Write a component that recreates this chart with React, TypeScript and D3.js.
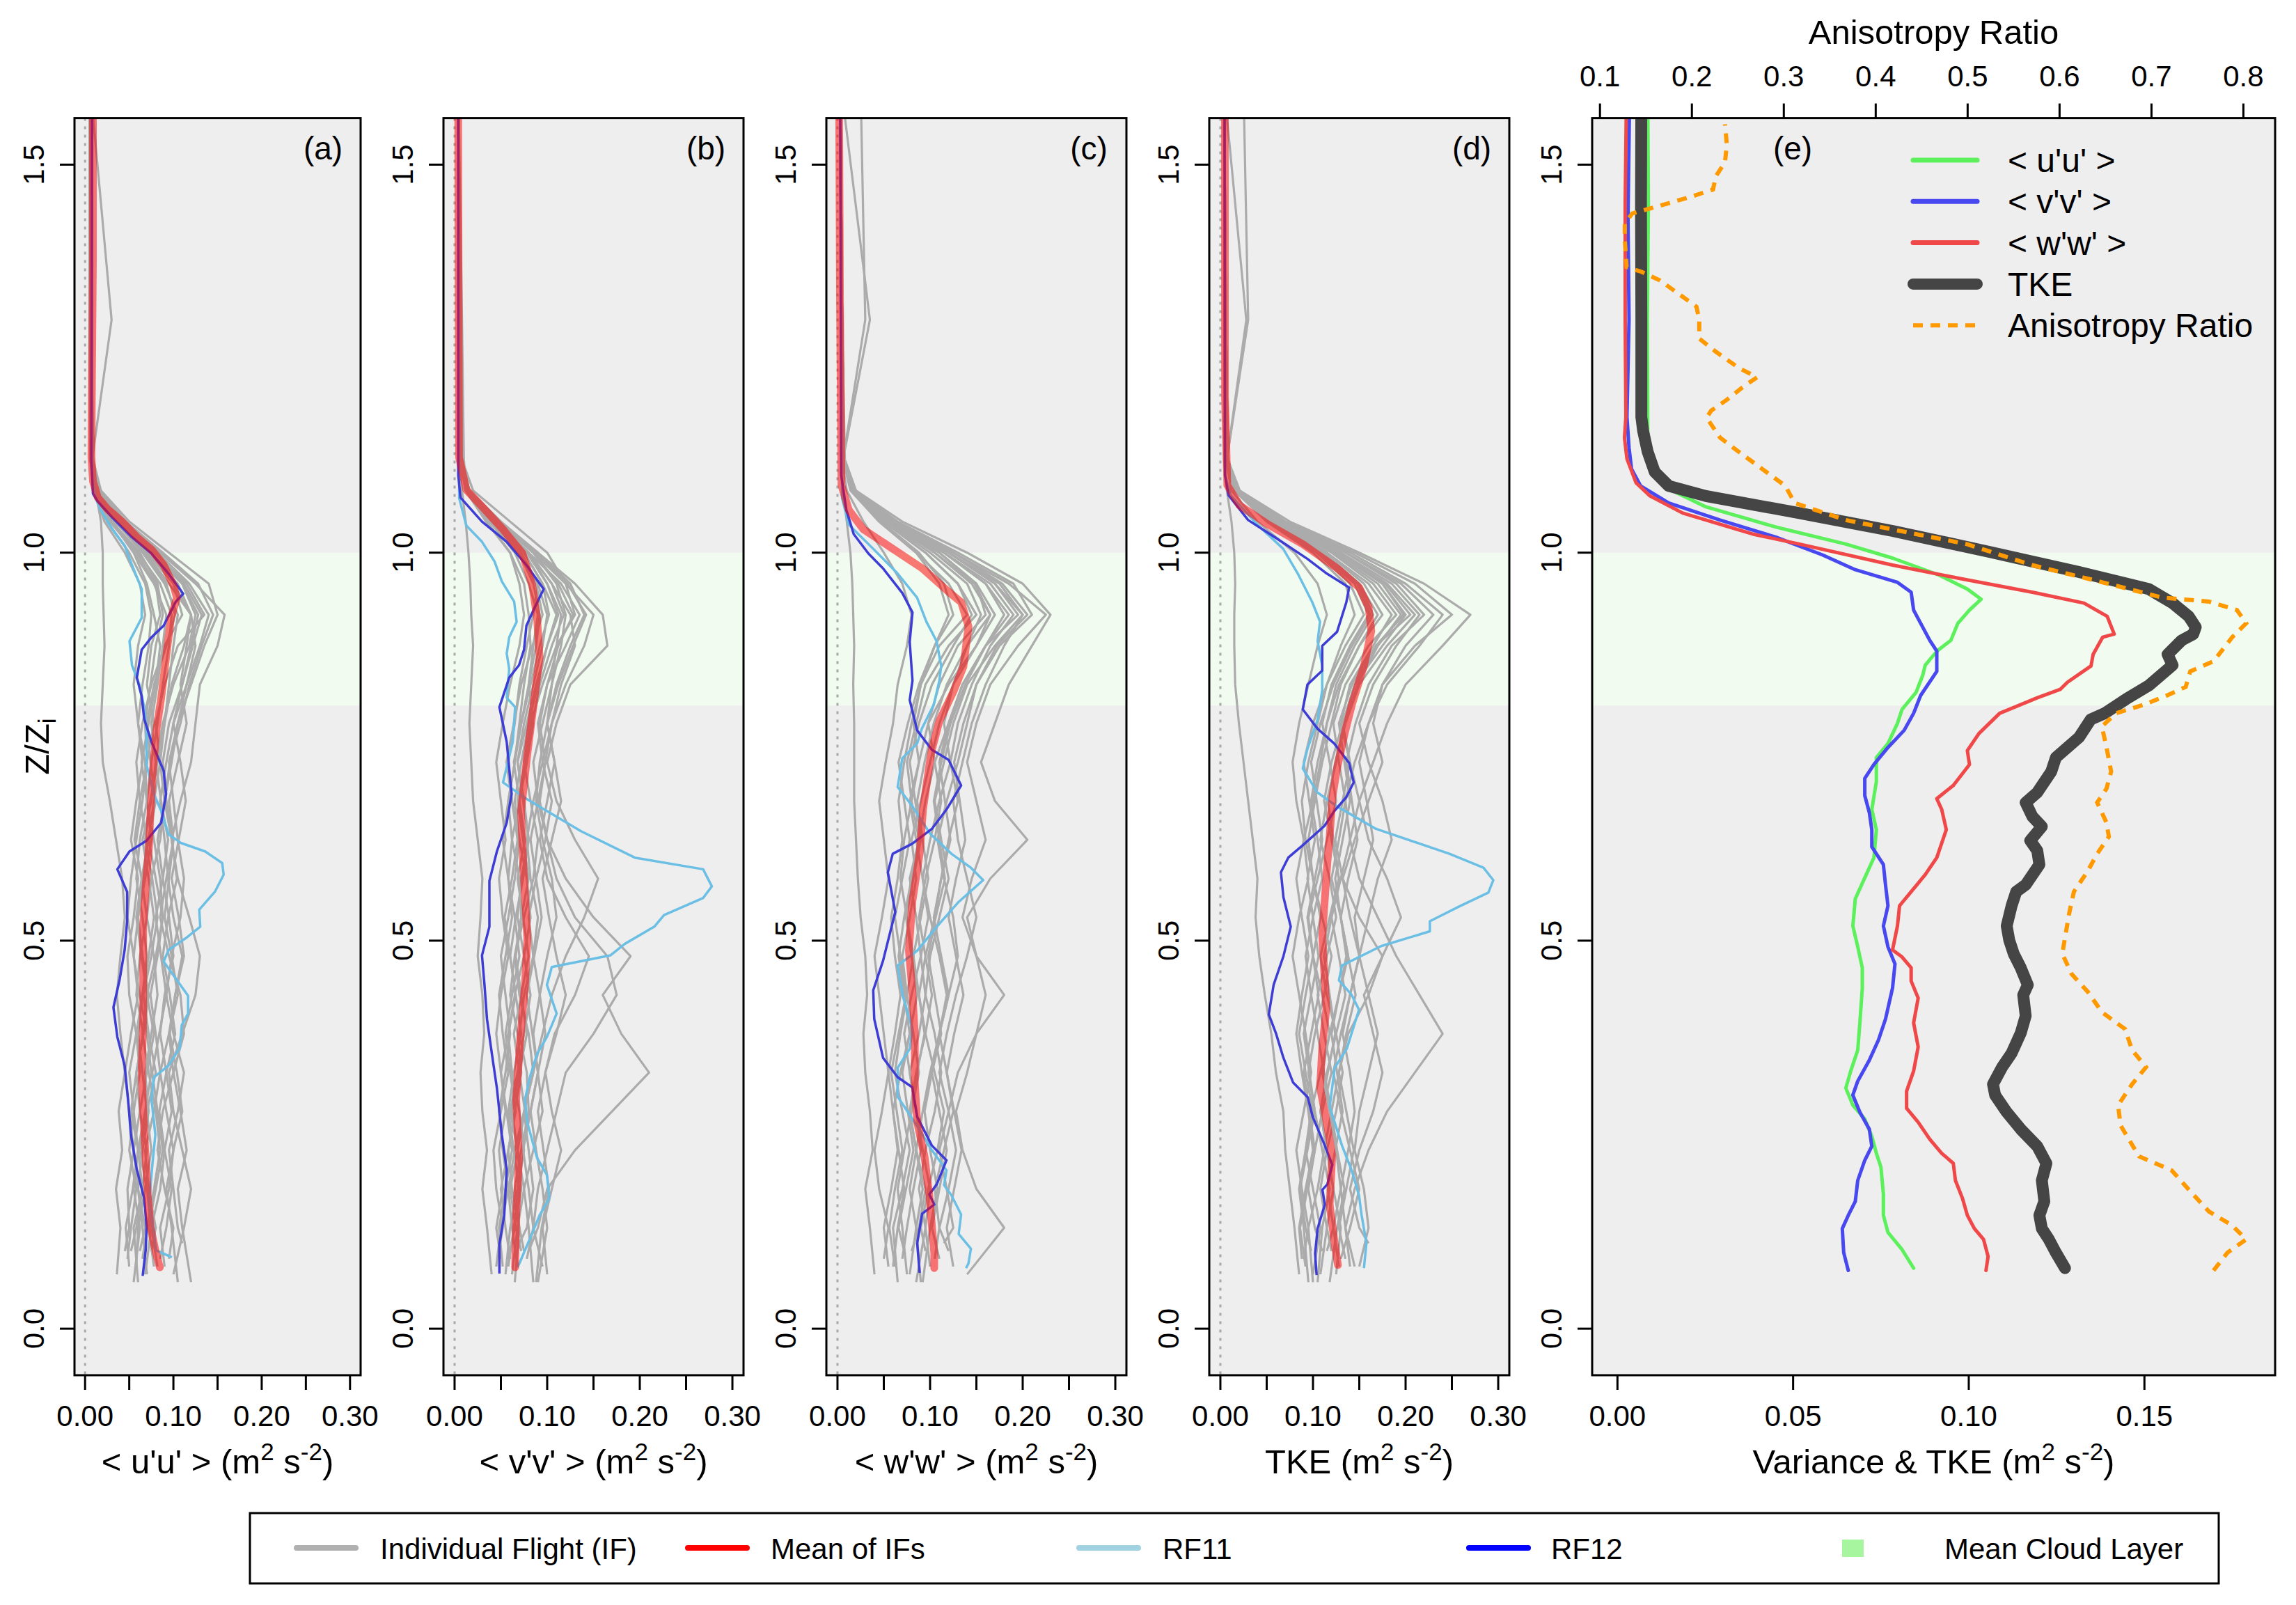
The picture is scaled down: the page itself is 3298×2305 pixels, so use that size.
import React, { useEffect, useRef } from 'react';
import * as d3 from 'd3';

type Pt = [number, number]; // [Z/Zi, value]

const W = 3298;
const H = 2305;
const FONT = '"Liberation Sans", Arial, Helvetica, sans-serif';

// ---- data -------------------------------------------------------------
// heights (Z/Zi) at which the individual flights are sampled
const zLevels = [0.08, 0.13, 0.18, 0.23, 0.28, 0.33, 0.38, 0.43, 0.48, 0.53, 0.58, 0.63, 0.68, 0.73, 0.78, 0.83, 0.88, 0.92, 0.96, 1.0, 1.04, 1.08, 1.12, 1.3, 1.6];
// lowest sampled height of each flight
const flightBase = [0.07, 0.09, 0.06, 0.10, 0.08, 0.11, 0.07, 0.09, 0.06, 0.08, 0.10, 0.07, 0.09, 0.08, 0.06, 0.10, 0.07, 0.09, 0.08, 0.06, 0.10, 0.08];
const cloudLayer = [0.803, 1.0];

const grayUU = [
  [0.036, 0.040, 0.035, 0.042, 0.038, 0.045, 0.040, 0.036, 0.040, 0.045, 0.042, 0.035, 0.028, 0.020, 0.018, 0.020, 0.022, 0.021, 0.020, 0.020, 0.018, 0.012, 0.006, 0.005, 0.005],
  [0.048, 0.052, 0.058, 0.050, 0.055, 0.062, 0.058, 0.050, 0.048, 0.055, 0.060, 0.052, 0.058, 0.065, 0.060, 0.055, 0.060, 0.068, 0.062, 0.045, 0.022, 0.010, 0.006, 0.006, 0.005],
  [0.060, 0.055, 0.065, 0.070, 0.062, 0.058, 0.066, 0.072, 0.065, 0.060, 0.068, 0.075, 0.070, 0.064, 0.072, 0.080, 0.085, 0.078, 0.070, 0.055, 0.030, 0.012, 0.007, 0.006, 0.006],
  [0.075, 0.080, 0.072, 0.068, 0.078, 0.085, 0.080, 0.074, 0.082, 0.088, 0.080, 0.072, 0.078, 0.085, 0.090, 0.095, 0.100, 0.105, 0.090, 0.065, 0.035, 0.014, 0.008, 0.007, 0.006],
  [0.090, 0.085, 0.095, 0.100, 0.092, 0.085, 0.095, 0.105, 0.098, 0.090, 0.095, 0.100, 0.092, 0.088, 0.095, 0.110, 0.120, 0.128, 0.110, 0.080, 0.045, 0.016, 0.008, 0.007, 0.006],
  [0.110, 0.105, 0.100, 0.095, 0.105, 0.112, 0.100, 0.092, 0.098, 0.108, 0.112, 0.105, 0.100, 0.095, 0.105, 0.120, 0.135, 0.150, 0.140, 0.095, 0.050, 0.018, 0.009, 0.007, 0.006],
  [0.100, 0.112, 0.120, 0.110, 0.100, 0.095, 0.110, 0.125, 0.130, 0.118, 0.105, 0.098, 0.108, 0.120, 0.125, 0.130, 0.150, 0.158, 0.125, 0.085, 0.040, 0.015, 0.008, 0.007, 0.006],
  [0.065, 0.070, 0.078, 0.085, 0.080, 0.072, 0.065, 0.070, 0.080, 0.088, 0.085, 0.078, 0.070, 0.075, 0.082, 0.088, 0.095, 0.098, 0.085, 0.060, 0.030, 0.012, 0.008, 0.030, 0.006],
  [0.055, 0.062, 0.055, 0.060, 0.068, 0.075, 0.070, 0.062, 0.055, 0.060, 0.066, 0.070, 0.062, 0.058, 0.065, 0.075, 0.090, 0.110, 0.100, 0.075, 0.040, 0.015, 0.007, 0.006, 0.005],
  [0.082, 0.075, 0.085, 0.090, 0.098, 0.092, 0.085, 0.090, 0.100, 0.095, 0.088, 0.082, 0.090, 0.098, 0.105, 0.115, 0.125, 0.120, 0.105, 0.070, 0.038, 0.014, 0.008, 0.006, 0.006],
  [0.045, 0.050, 0.048, 0.055, 0.050, 0.045, 0.052, 0.060, 0.055, 0.048, 0.052, 0.058, 0.065, 0.070, 0.078, 0.070, 0.075, 0.085, 0.080, 0.058, 0.028, 0.011, 0.007, 0.006, 0.005],
  [0.070, 0.065, 0.060, 0.065, 0.072, 0.068, 0.075, 0.082, 0.078, 0.070, 0.075, 0.085, 0.090, 0.085, 0.080, 0.090, 0.105, 0.135, 0.115, 0.078, 0.042, 0.015, 0.008, 0.007, 0.006],
  [0.095, 0.100, 0.090, 0.082, 0.088, 0.100, 0.112, 0.108, 0.095, 0.085, 0.092, 0.100, 0.095, 0.105, 0.115, 0.108, 0.115, 0.120, 0.095, 0.068, 0.035, 0.013, 0.008, 0.006, 0.006],
  [0.058, 0.060, 0.068, 0.075, 0.070, 0.065, 0.060, 0.065, 0.072, 0.078, 0.072, 0.065, 0.075, 0.080, 0.075, 0.082, 0.088, 0.092, 0.078, 0.055, 0.032, 0.013, 0.007, 0.006, 0.005],
  [0.120, 0.110, 0.105, 0.115, 0.108, 0.100, 0.095, 0.102, 0.110, 0.100, 0.094, 0.090, 0.085, 0.092, 0.100, 0.115, 0.130, 0.140, 0.118, 0.082, 0.045, 0.016, 0.009, 0.007, 0.006],
  [0.052, 0.058, 0.065, 0.060, 0.055, 0.050, 0.058, 0.065, 0.070, 0.065, 0.058, 0.062, 0.070, 0.068, 0.060, 0.065, 0.072, 0.075, 0.068, 0.050, 0.025, 0.010, 0.006, 0.005, 0.005],
  [0.068, 0.075, 0.070, 0.062, 0.070, 0.080, 0.072, 0.066, 0.075, 0.082, 0.076, 0.068, 0.074, 0.082, 0.090, 0.098, 0.112, 0.120, 0.100, 0.070, 0.036, 0.013, 0.008, 0.006, 0.006],
  [0.085, 0.092, 0.098, 0.090, 0.084, 0.092, 0.102, 0.096, 0.088, 0.094, 0.104, 0.098, 0.090, 0.096, 0.108, 0.118, 0.132, 0.145, 0.128, 0.088, 0.046, 0.016, 0.008, 0.007, 0.006],
  [0.050, 0.046, 0.054, 0.060, 0.052, 0.058, 0.066, 0.058, 0.062, 0.070, 0.064, 0.056, 0.062, 0.070, 0.068, 0.074, 0.080, 0.088, 0.082, 0.062, 0.030, 0.012, 0.007, 0.006, 0.005],
  [0.105, 0.098, 0.092, 0.100, 0.110, 0.104, 0.096, 0.102, 0.112, 0.106, 0.098, 0.106, 0.114, 0.108, 0.100, 0.110, 0.122, 0.132, 0.112, 0.078, 0.040, 0.015, 0.008, 0.007, 0.006],
  [0.062, 0.068, 0.060, 0.055, 0.062, 0.070, 0.078, 0.070, 0.064, 0.058, 0.064, 0.072, 0.080, 0.074, 0.070, 0.078, 0.092, 0.102, 0.092, 0.066, 0.034, 0.013, 0.007, 0.006, 0.005],
  [0.078, 0.072, 0.080, 0.088, 0.082, 0.076, 0.084, 0.092, 0.086, 0.080, 0.088, 0.094, 0.086, 0.080, 0.088, 0.100, 0.118, 0.125, 0.110, 0.074, 0.038, 0.014, 0.008, 0.007, 0.006],
];

const grayVV = [
  [0.040, 0.035, 0.030, 0.035, 0.030, 0.028, 0.032, 0.030, 0.025, 0.028, 0.030, 0.025, 0.020, 0.018, 0.016, 0.018, 0.020, 0.018, 0.017, 0.015, 0.012, 0.008, 0.005, 0.005, 0.004],
  [0.050, 0.045, 0.052, 0.048, 0.055, 0.050, 0.045, 0.050, 0.058, 0.052, 0.048, 0.055, 0.050, 0.045, 0.052, 0.060, 0.070, 0.075, 0.070, 0.060, 0.035, 0.012, 0.006, 0.005, 0.004],
  [0.065, 0.070, 0.062, 0.058, 0.065, 0.072, 0.068, 0.060, 0.065, 0.072, 0.070, 0.062, 0.058, 0.065, 0.072, 0.080, 0.088, 0.092, 0.085, 0.070, 0.040, 0.014, 0.006, 0.005, 0.004],
  [0.080, 0.090, 0.100, 0.130, 0.170, 0.210, 0.180, 0.160, 0.190, 0.150, 0.120, 0.100, 0.090, 0.085, 0.095, 0.105, 0.110, 0.115, 0.100, 0.080, 0.045, 0.015, 0.007, 0.005, 0.004],
  [0.095, 0.085, 0.090, 0.100, 0.110, 0.120, 0.150, 0.175, 0.165, 0.130, 0.110, 0.100, 0.092, 0.098, 0.105, 0.120, 0.140, 0.150, 0.120, 0.085, 0.050, 0.016, 0.007, 0.006, 0.004],
  [0.070, 0.078, 0.085, 0.080, 0.075, 0.085, 0.095, 0.105, 0.120, 0.140, 0.155, 0.130, 0.110, 0.100, 0.110, 0.125, 0.165, 0.160, 0.130, 0.090, 0.050, 0.016, 0.007, 0.006, 0.004],
  [0.055, 0.060, 0.068, 0.075, 0.070, 0.062, 0.058, 0.065, 0.075, 0.082, 0.078, 0.070, 0.065, 0.072, 0.080, 0.090, 0.100, 0.110, 0.095, 0.075, 0.040, 0.013, 0.006, 0.005, 0.004],
  [0.060, 0.055, 0.050, 0.058, 0.066, 0.060, 0.055, 0.062, 0.070, 0.065, 0.058, 0.062, 0.070, 0.078, 0.085, 0.080, 0.085, 0.090, 0.080, 0.065, 0.038, 0.013, 0.010, 0.008, 0.004],
  [0.085, 0.080, 0.075, 0.085, 0.095, 0.090, 0.085, 0.092, 0.100, 0.110, 0.105, 0.095, 0.088, 0.092, 0.100, 0.110, 0.125, 0.140, 0.125, 0.090, 0.048, 0.015, 0.007, 0.006, 0.004],
  [0.045, 0.050, 0.058, 0.052, 0.048, 0.055, 0.060, 0.055, 0.050, 0.058, 0.065, 0.070, 0.062, 0.058, 0.065, 0.070, 0.078, 0.085, 0.090, 0.070, 0.042, 0.014, 0.006, 0.005, 0.004],
  [0.075, 0.070, 0.065, 0.072, 0.080, 0.078, 0.070, 0.075, 0.085, 0.090, 0.082, 0.078, 0.085, 0.095, 0.105, 0.115, 0.130, 0.125, 0.105, 0.080, 0.045, 0.015, 0.007, 0.006, 0.004],
  [0.100, 0.095, 0.105, 0.115, 0.105, 0.098, 0.110, 0.120, 0.110, 0.102, 0.095, 0.105, 0.115, 0.108, 0.100, 0.105, 0.115, 0.120, 0.110, 0.085, 0.046, 0.015, 0.007, 0.006, 0.004],
  [0.058, 0.065, 0.072, 0.068, 0.060, 0.068, 0.075, 0.082, 0.075, 0.068, 0.072, 0.080, 0.075, 0.068, 0.075, 0.085, 0.095, 0.100, 0.090, 0.072, 0.040, 0.014, 0.006, 0.005, 0.004],
  [0.068, 0.062, 0.058, 0.065, 0.075, 0.085, 0.080, 0.070, 0.065, 0.075, 0.085, 0.090, 0.082, 0.075, 0.082, 0.095, 0.110, 0.130, 0.120, 0.100, 0.060, 0.020, 0.008, 0.006, 0.004],
  [0.090, 0.100, 0.095, 0.088, 0.082, 0.090, 0.098, 0.092, 0.085, 0.080, 0.088, 0.098, 0.105, 0.095, 0.090, 0.100, 0.120, 0.135, 0.115, 0.080, 0.044, 0.015, 0.007, 0.006, 0.004],
  [0.048, 0.052, 0.045, 0.042, 0.050, 0.058, 0.052, 0.048, 0.055, 0.062, 0.058, 0.052, 0.058, 0.065, 0.070, 0.075, 0.082, 0.080, 0.075, 0.060, 0.034, 0.012, 0.006, 0.005, 0.004],
  [0.062, 0.068, 0.075, 0.068, 0.062, 0.070, 0.078, 0.072, 0.066, 0.072, 0.080, 0.074, 0.068, 0.076, 0.084, 0.092, 0.105, 0.118, 0.105, 0.080, 0.044, 0.015, 0.006, 0.005, 0.004],
  [0.078, 0.085, 0.080, 0.074, 0.082, 0.090, 0.084, 0.078, 0.086, 0.094, 0.088, 0.082, 0.090, 0.098, 0.092, 0.100, 0.112, 0.128, 0.112, 0.085, 0.047, 0.016, 0.007, 0.005, 0.004],
  [0.052, 0.048, 0.055, 0.062, 0.056, 0.050, 0.058, 0.066, 0.060, 0.054, 0.062, 0.068, 0.062, 0.056, 0.064, 0.072, 0.084, 0.095, 0.088, 0.068, 0.038, 0.013, 0.006, 0.005, 0.004],
  [0.088, 0.094, 0.102, 0.096, 0.090, 0.098, 0.108, 0.130, 0.145, 0.120, 0.100, 0.092, 0.100, 0.108, 0.100, 0.112, 0.128, 0.142, 0.122, 0.088, 0.048, 0.016, 0.007, 0.006, 0.004],
  [0.072, 0.066, 0.060, 0.068, 0.076, 0.070, 0.064, 0.072, 0.080, 0.074, 0.068, 0.076, 0.070, 0.064, 0.072, 0.082, 0.092, 0.102, 0.095, 0.075, 0.042, 0.014, 0.006, 0.005, 0.004],
  [0.058, 0.064, 0.070, 0.064, 0.058, 0.064, 0.072, 0.066, 0.060, 0.066, 0.074, 0.080, 0.074, 0.068, 0.078, 0.088, 0.100, 0.112, 0.100, 0.078, 0.043, 0.014, 0.006, 0.005, 0.004],
];

const grayWW = [
  [0.040, 0.035, 0.030, 0.038, 0.035, 0.030, 0.028, 0.032, 0.030, 0.025, 0.022, 0.020, 0.018, 0.018, 0.018, 0.017, 0.018, 0.017, 0.016, 0.014, 0.010, 0.006, 0.004, 0.004, 0.003],
  [0.050, 0.055, 0.045, 0.040, 0.048, 0.055, 0.050, 0.045, 0.040, 0.048, 0.055, 0.050, 0.045, 0.052, 0.060, 0.065, 0.075, 0.080, 0.070, 0.050, 0.028, 0.010, 0.005, 0.004, 0.003],
  [0.065, 0.060, 0.070, 0.078, 0.070, 0.062, 0.068, 0.075, 0.082, 0.075, 0.068, 0.072, 0.080, 0.088, 0.082, 0.090, 0.110, 0.140, 0.120, 0.085, 0.045, 0.015, 0.006, 0.004, 0.003],
  [0.080, 0.088, 0.095, 0.085, 0.078, 0.085, 0.095, 0.102, 0.095, 0.088, 0.095, 0.105, 0.112, 0.105, 0.098, 0.110, 0.130, 0.160, 0.150, 0.110, 0.055, 0.016, 0.006, 0.004, 0.003],
  [0.100, 0.095, 0.088, 0.095, 0.105, 0.112, 0.105, 0.095, 0.100, 0.110, 0.120, 0.112, 0.105, 0.115, 0.125, 0.140, 0.170, 0.200, 0.175, 0.120, 0.060, 0.018, 0.007, 0.005, 0.003],
  [0.115, 0.125, 0.118, 0.110, 0.120, 0.130, 0.150, 0.180, 0.150, 0.135, 0.145, 0.160, 0.150, 0.140, 0.150, 0.165, 0.195, 0.225, 0.185, 0.125, 0.062, 0.018, 0.007, 0.005, 0.003],
  [0.140, 0.180, 0.150, 0.135, 0.128, 0.140, 0.150, 0.160, 0.150, 0.140, 0.165, 0.205, 0.170, 0.155, 0.170, 0.185, 0.210, 0.230, 0.200, 0.140, 0.070, 0.020, 0.008, 0.005, 0.003],
  [0.070, 0.075, 0.082, 0.090, 0.085, 0.078, 0.072, 0.080, 0.090, 0.098, 0.092, 0.085, 0.078, 0.088, 0.098, 0.120, 0.150, 0.170, 0.150, 0.110, 0.055, 0.016, 0.006, 0.030, 0.025],
  [0.090, 0.085, 0.078, 0.085, 0.092, 0.100, 0.110, 0.118, 0.110, 0.100, 0.092, 0.100, 0.110, 0.122, 0.130, 0.145, 0.165, 0.190, 0.165, 0.115, 0.058, 0.017, 0.007, 0.005, 0.003],
  [0.060, 0.065, 0.072, 0.066, 0.060, 0.068, 0.078, 0.072, 0.066, 0.072, 0.080, 0.088, 0.080, 0.075, 0.085, 0.095, 0.120, 0.150, 0.130, 0.095, 0.050, 0.015, 0.006, 0.035, 0.004],
  [0.120, 0.110, 0.105, 0.115, 0.125, 0.118, 0.110, 0.120, 0.130, 0.125, 0.115, 0.108, 0.118, 0.130, 0.140, 0.150, 0.175, 0.210, 0.190, 0.130, 0.065, 0.019, 0.007, 0.005, 0.003],
  [0.075, 0.070, 0.065, 0.072, 0.080, 0.088, 0.082, 0.075, 0.070, 0.078, 0.085, 0.080, 0.090, 0.100, 0.110, 0.125, 0.140, 0.155, 0.140, 0.100, 0.052, 0.016, 0.006, 0.004, 0.003],
  [0.105, 0.110, 0.120, 0.128, 0.120, 0.110, 0.118, 0.128, 0.140, 0.150, 0.140, 0.130, 0.125, 0.135, 0.145, 0.160, 0.180, 0.200, 0.170, 0.120, 0.060, 0.018, 0.007, 0.005, 0.003],
  [0.055, 0.050, 0.058, 0.065, 0.060, 0.055, 0.062, 0.068, 0.062, 0.058, 0.065, 0.070, 0.066, 0.072, 0.080, 0.090, 0.105, 0.120, 0.110, 0.085, 0.045, 0.014, 0.006, 0.004, 0.003],
  [0.085, 0.095, 0.100, 0.092, 0.085, 0.078, 0.088, 0.095, 0.090, 0.085, 0.078, 0.088, 0.095, 0.105, 0.120, 0.135, 0.160, 0.180, 0.160, 0.115, 0.058, 0.017, 0.007, 0.005, 0.003],
  [0.095, 0.090, 0.098, 0.108, 0.115, 0.105, 0.095, 0.088, 0.095, 0.105, 0.112, 0.120, 0.130, 0.122, 0.115, 0.125, 0.150, 0.165, 0.145, 0.105, 0.055, 0.016, 0.007, 0.005, 0.003],
  [0.078, 0.085, 0.092, 0.085, 0.078, 0.086, 0.094, 0.088, 0.082, 0.090, 0.098, 0.092, 0.086, 0.094, 0.104, 0.118, 0.140, 0.165, 0.148, 0.105, 0.054, 0.016, 0.006, 0.004, 0.003],
  [0.110, 0.102, 0.110, 0.118, 0.110, 0.102, 0.110, 0.120, 0.112, 0.104, 0.112, 0.122, 0.116, 0.110, 0.120, 0.135, 0.160, 0.185, 0.160, 0.115, 0.058, 0.017, 0.007, 0.005, 0.003],
  [0.062, 0.056, 0.062, 0.070, 0.064, 0.058, 0.066, 0.074, 0.068, 0.062, 0.070, 0.078, 0.072, 0.066, 0.076, 0.088, 0.105, 0.125, 0.115, 0.088, 0.047, 0.015, 0.006, 0.004, 0.003],
  [0.092, 0.100, 0.108, 0.100, 0.094, 0.102, 0.112, 0.105, 0.098, 0.106, 0.116, 0.110, 0.104, 0.112, 0.122, 0.138, 0.160, 0.195, 0.170, 0.120, 0.060, 0.018, 0.007, 0.005, 0.003],
  [0.072, 0.066, 0.074, 0.082, 0.076, 0.070, 0.078, 0.086, 0.080, 0.074, 0.082, 0.090, 0.084, 0.078, 0.088, 0.102, 0.125, 0.145, 0.130, 0.095, 0.050, 0.015, 0.006, 0.004, 0.003],
  [0.125, 0.118, 0.126, 0.134, 0.126, 0.118, 0.126, 0.136, 0.128, 0.120, 0.128, 0.138, 0.132, 0.126, 0.136, 0.150, 0.172, 0.205, 0.178, 0.125, 0.062, 0.018, 0.007, 0.005, 0.003],
];

const grayTKE = [
  [0.085, 0.080, 0.075, 0.070, 0.068, 0.060, 0.055, 0.048, 0.042, 0.038, 0.040, 0.035, 0.030, 0.025, 0.020, 0.016, 0.015, 0.015, 0.016, 0.015, 0.012, 0.007, 0.004, 0.004, 0.004],
  [0.090, 0.095, 0.088, 0.082, 0.090, 0.098, 0.092, 0.085, 0.078, 0.085, 0.095, 0.090, 0.082, 0.078, 0.085, 0.095, 0.105, 0.115, 0.105, 0.080, 0.040, 0.012, 0.006, 0.005, 0.004],
  [0.105, 0.110, 0.118, 0.110, 0.102, 0.095, 0.102, 0.112, 0.120, 0.110, 0.100, 0.095, 0.102, 0.110, 0.120, 0.130, 0.150, 0.170, 0.150, 0.110, 0.055, 0.016, 0.007, 0.005, 0.004],
  [0.120, 0.115, 0.108, 0.115, 0.125, 0.132, 0.125, 0.115, 0.108, 0.118, 0.128, 0.120, 0.112, 0.120, 0.132, 0.145, 0.175, 0.200, 0.175, 0.125, 0.062, 0.018, 0.007, 0.005, 0.004],
  [0.140, 0.135, 0.145, 0.160, 0.180, 0.210, 0.240, 0.215, 0.190, 0.170, 0.150, 0.140, 0.135, 0.145, 0.160, 0.180, 0.215, 0.240, 0.200, 0.140, 0.070, 0.020, 0.008, 0.006, 0.004],
  [0.160, 0.150, 0.140, 0.150, 0.165, 0.175, 0.165, 0.155, 0.175, 0.195, 0.180, 0.160, 0.150, 0.165, 0.180, 0.200, 0.240, 0.270, 0.220, 0.150, 0.075, 0.021, 0.008, 0.006, 0.004],
  [0.100, 0.108, 0.100, 0.092, 0.098, 0.108, 0.118, 0.110, 0.100, 0.095, 0.105, 0.115, 0.125, 0.118, 0.110, 0.120, 0.140, 0.160, 0.145, 0.105, 0.052, 0.015, 0.007, 0.005, 0.004],
  [0.130, 0.140, 0.150, 0.140, 0.130, 0.122, 0.130, 0.140, 0.150, 0.160, 0.170, 0.185, 0.175, 0.160, 0.150, 0.165, 0.190, 0.215, 0.185, 0.130, 0.065, 0.019, 0.008, 0.006, 0.004],
  [0.095, 0.090, 0.085, 0.092, 0.100, 0.092, 0.085, 0.092, 0.100, 0.108, 0.100, 0.092, 0.088, 0.095, 0.105, 0.115, 0.130, 0.145, 0.135, 0.100, 0.050, 0.015, 0.007, 0.028, 0.004],
  [0.150, 0.160, 0.155, 0.145, 0.150, 0.160, 0.170, 0.160, 0.150, 0.145, 0.155, 0.165, 0.158, 0.150, 0.160, 0.175, 0.210, 0.250, 0.210, 0.145, 0.070, 0.020, 0.008, 0.006, 0.004],
  [0.110, 0.102, 0.095, 0.102, 0.110, 0.120, 0.112, 0.105, 0.115, 0.125, 0.118, 0.108, 0.115, 0.125, 0.135, 0.150, 0.180, 0.210, 0.180, 0.128, 0.063, 0.018, 0.007, 0.005, 0.004],
  [0.125, 0.130, 0.122, 0.115, 0.108, 0.115, 0.125, 0.135, 0.128, 0.120, 0.130, 0.140, 0.150, 0.140, 0.130, 0.140, 0.165, 0.185, 0.160, 0.115, 0.058, 0.017, 0.007, 0.005, 0.004],
  [0.088, 0.085, 0.092, 0.100, 0.095, 0.088, 0.082, 0.088, 0.095, 0.088, 0.082, 0.090, 0.100, 0.108, 0.115, 0.125, 0.145, 0.165, 0.150, 0.112, 0.056, 0.016, 0.007, 0.030, 0.025],
  [0.145, 0.135, 0.130, 0.138, 0.145, 0.140, 0.132, 0.140, 0.150, 0.140, 0.132, 0.145, 0.160, 0.175, 0.165, 0.175, 0.200, 0.230, 0.195, 0.135, 0.068, 0.020, 0.008, 0.006, 0.004],
  [0.100, 0.095, 0.105, 0.112, 0.120, 0.112, 0.105, 0.098, 0.092, 0.100, 0.110, 0.105, 0.098, 0.105, 0.115, 0.128, 0.150, 0.175, 0.155, 0.115, 0.057, 0.017, 0.007, 0.005, 0.004],
  [0.115, 0.122, 0.130, 0.125, 0.118, 0.110, 0.118, 0.128, 0.138, 0.130, 0.120, 0.128, 0.135, 0.128, 0.122, 0.135, 0.160, 0.190, 0.165, 0.120, 0.060, 0.018, 0.007, 0.005, 0.004],
  [0.108, 0.115, 0.122, 0.115, 0.108, 0.116, 0.124, 0.118, 0.112, 0.120, 0.128, 0.122, 0.116, 0.124, 0.134, 0.148, 0.170, 0.195, 0.170, 0.122, 0.061, 0.018, 0.007, 0.005, 0.004],
  [0.135, 0.128, 0.136, 0.144, 0.136, 0.128, 0.136, 0.146, 0.138, 0.130, 0.138, 0.148, 0.142, 0.136, 0.146, 0.160, 0.185, 0.220, 0.190, 0.135, 0.067, 0.020, 0.008, 0.006, 0.004],
  [0.092, 0.086, 0.094, 0.102, 0.096, 0.090, 0.098, 0.106, 0.100, 0.094, 0.102, 0.110, 0.104, 0.098, 0.108, 0.122, 0.142, 0.162, 0.148, 0.108, 0.054, 0.016, 0.007, 0.005, 0.004],
  [0.118, 0.126, 0.134, 0.126, 0.120, 0.128, 0.138, 0.160, 0.175, 0.150, 0.132, 0.124, 0.132, 0.140, 0.132, 0.145, 0.168, 0.198, 0.175, 0.125, 0.062, 0.018, 0.007, 0.005, 0.004],
  [0.098, 0.092, 0.086, 0.094, 0.102, 0.096, 0.090, 0.098, 0.106, 0.100, 0.094, 0.102, 0.096, 0.090, 0.100, 0.115, 0.135, 0.155, 0.140, 0.104, 0.052, 0.015, 0.007, 0.005, 0.004],
  [0.128, 0.122, 0.116, 0.124, 0.132, 0.126, 0.120, 0.128, 0.136, 0.130, 0.124, 0.132, 0.140, 0.134, 0.128, 0.142, 0.168, 0.205, 0.178, 0.128, 0.064, 0.019, 0.007, 0.005, 0.004],
];

// mean of individual flights, [Z/Zi, value]
const meanUU: Pt[] = [[0.079, 0.0846], [0.101, 0.0796], [0.131, 0.0741], [0.168, 0.0713], [0.220, 0.0686], [0.280, 0.0658], [0.332, 0.0641], [0.399, 0.0658], [0.458, 0.0658], [0.518, 0.0658], [0.570, 0.0686], [0.622, 0.0724], [0.667, 0.0741], [0.719, 0.0768], [0.771, 0.0807], [0.813, 0.0862], [0.865, 0.0917], [0.916, 0.0973], [0.942, 0.1039], [0.958, 0.1000], [0.984, 0.0890], [1.004, 0.0752], [1.020, 0.0586], [1.040, 0.0420], [1.056, 0.0255], [1.071, 0.0144], [1.092, 0.0089], [1.123, 0.0072], [1.226, 0.0078], [1.380, 0.0089], [1.6, 0.0089]];
const meanVV: Pt[] = [[0.079, 0.0654], [0.146, 0.0665], [0.220, 0.0696], [0.295, 0.0665], [0.369, 0.0707], [0.443, 0.0760], [0.503, 0.0786], [0.592, 0.0744], [0.667, 0.0718], [0.741, 0.0786], [0.815, 0.0865], [0.865, 0.0918], [0.916, 0.0891], [0.958, 0.0839], [0.999, 0.0733], [1.030, 0.0523], [1.061, 0.0285], [1.081, 0.0127], [1.123, 0.0048], [1.6, 0.0038]];
const meanWW: Pt[] = [[0.078, 0.1045], [0.097, 0.1045], [0.172, 0.0992], [0.222, 0.0940], [0.266, 0.0861], [0.317, 0.0835], [0.380, 0.0835], [0.436, 0.0808], [0.487, 0.0771], [0.550, 0.0808], [0.612, 0.0887], [0.669, 0.0924], [0.726, 0.0992], [0.746, 0.1019], [0.783, 0.1100], [0.822, 0.1256], [0.853, 0.1360], [0.905, 0.1415], [0.936, 0.1336], [0.952, 0.1177], [0.980, 0.0913], [1.005, 0.0597], [1.030, 0.0280], [1.055, 0.0122], [1.087, 0.0043], [1.33, 0.0027], [1.6, 0.0017]];
const meanTKE: Pt[] = [[0.082, 0.127], [0.110, 0.1234], [0.160, 0.118], [0.223, 0.1208], [0.261, 0.1155], [0.311, 0.1076], [0.362, 0.110], [0.412, 0.1144], [0.506, 0.110], [0.600, 0.1155], [0.634, 0.118], [0.685, 0.121], [0.722, 0.126], [0.766, 0.134], [0.804, 0.142], [0.854, 0.155], [0.899, 0.163], [0.930, 0.160], [0.955, 0.150], [0.980, 0.126], [1.011, 0.089], [1.036, 0.052], [1.061, 0.0207], [1.087, 0.0075], [1.2, 0.005], [1.6, 0.0048]];

// research flight RF11
const rf11UU: Pt[] = [[0.092, 0.0983], [0.101, 0.0803], [0.124, 0.0779], [0.161, 0.0724], [0.213, 0.0763], [0.250, 0.0796], [0.295, 0.0752], [0.324, 0.0779], [0.339, 0.0945], [0.362, 0.1072], [0.391, 0.1094], [0.406, 0.1166], [0.429, 0.1166], [0.451, 0.1028], [0.473, 0.0890], [0.488, 0.0945], [0.503, 0.1138], [0.518, 0.1304], [0.540, 0.1293], [0.563, 0.1470], [0.585, 0.1569], [0.600, 0.1553], [0.615, 0.1359], [0.626, 0.1083], [0.637, 0.0945], [0.667, 0.0862], [0.689, 0.0779], [0.726, 0.0697], [0.771, 0.0697], [0.801, 0.0669], [0.830, 0.0614], [0.855, 0.0531], [0.886, 0.0503], [0.916, 0.0641], [0.953, 0.0641], [0.984, 0.0531], [1.009, 0.0448], [1.030, 0.0310], [1.056, 0.0172], [1.071, 0.0117], [1.1, 0.008], [1.6, 0.008]];
const rf11VV: Pt[] = [[0.079, 0.0680], [0.086, 0.0707], [0.116, 0.0813], [0.146, 0.0918], [0.168, 0.1023], [0.198, 0.0997], [0.220, 0.0891], [0.265, 0.0786], [0.295, 0.0760], [0.324, 0.0813], [0.354, 0.0891], [0.376, 0.0997], [0.406, 0.1102], [0.443, 0.0997], [0.466, 0.1050], [0.481, 0.1682], [0.496, 0.1840], [0.518, 0.2157], [0.533, 0.2262], [0.555, 0.2684], [0.570, 0.2778], [0.592, 0.2684], [0.607, 0.1946], [0.641, 0.1366], [0.682, 0.0786], [0.704, 0.0523], [0.756, 0.0628], [0.801, 0.0654], [0.813, 0.0563], [0.850, 0.0590], [0.870, 0.0563], [0.891, 0.0590], [0.911, 0.0670], [0.937, 0.0643], [0.963, 0.0510], [0.989, 0.0430], [1.014, 0.0296], [1.035, 0.0127], [1.07, 0.005], [1.6, 0.004]];
const rf11WW: Pt[] = [[0.078, 0.1388], [0.084, 0.1414], [0.103, 0.1441], [0.122, 0.1309], [0.147, 0.1335], [0.172, 0.1230], [0.185, 0.1151], [0.204, 0.1177], [0.230, 0.1019], [0.261, 0.0861], [0.299, 0.065], [0.336, 0.065], [0.361, 0.0782], [0.386, 0.0808], [0.430, 0.0703], [0.468, 0.065], [0.487, 0.0861], [0.518, 0.1072], [0.550, 0.1309], [0.578, 0.1573], [0.594, 0.1441], [0.612, 0.123], [0.638, 0.100], [0.673, 0.081], [0.698, 0.065], [0.735, 0.070], [0.754, 0.086], [0.773, 0.091], [0.804, 0.104], [0.835, 0.110], [0.854, 0.112], [0.886, 0.107], [0.911, 0.096], [0.942, 0.086], [0.973, 0.065], [1.005, 0.0386], [1.036, 0.0122], [1.07, 0.005], [1.6, 0.003]];
const rf11TKE: Pt[] = [[0.078, 0.155], [0.110, 0.1577], [0.147, 0.1524], [0.172, 0.1497], [0.204, 0.1418], [0.236, 0.1313], [0.286, 0.1181], [0.336, 0.1234], [0.361, 0.1366], [0.411, 0.1497], [0.430, 0.1418], [0.449, 0.128], [0.468, 0.1313], [0.493, 0.1735], [0.512, 0.2262], [0.525, 0.2262], [0.544, 0.2578], [0.562, 0.2894], [0.578, 0.2947], [0.594, 0.2841], [0.612, 0.2473], [0.644, 0.1682], [0.673, 0.126], [0.691, 0.1047], [0.722, 0.089], [0.747, 0.094], [0.785, 0.105], [0.823, 0.110], [0.854, 0.110], [0.886, 0.105], [0.911, 0.1076], [0.936, 0.0993], [0.973, 0.0836], [1.005, 0.0678], [1.036, 0.040], [1.074, 0.011], [1.1, 0.005], [1.6, 0.0045]];

// research flight RF12
const rf12UU: Pt[] = [[0.068, 0.0652], [0.101, 0.0686], [0.131, 0.0697], [0.168, 0.0669], [0.205, 0.0586], [0.250, 0.0519], [0.295, 0.0487], [0.339, 0.0448], [0.376, 0.0365], [0.414, 0.0321], [0.451, 0.0393], [0.488, 0.0448], [0.525, 0.0476], [0.563, 0.0476], [0.592, 0.0365], [0.615, 0.0503], [0.629, 0.0697], [0.652, 0.0862], [0.689, 0.0917], [0.719, 0.0890], [0.756, 0.0752], [0.786, 0.0669], [0.815, 0.0641], [0.839, 0.0586], [0.875, 0.0641], [0.891, 0.0752], [0.906, 0.0890], [0.937, 0.1028], [0.947, 0.1111], [0.973, 0.0945], [0.999, 0.0752], [1.020, 0.0531], [1.045, 0.0310], [1.066, 0.0144], [1.076, 0.0089], [1.12, 0.007], [1.6, 0.008]];
const rf12VV: Pt[] = [[0.071, 0.0484], [0.109, 0.0484], [0.146, 0.0536], [0.205, 0.0563], [0.250, 0.0510], [0.310, 0.0457], [0.354, 0.0403], [0.399, 0.0350], [0.443, 0.0323], [0.481, 0.0296], [0.518, 0.0376], [0.577, 0.0376], [0.615, 0.0457], [0.652, 0.0563], [0.689, 0.0616], [0.756, 0.0563], [0.801, 0.0484], [0.839, 0.0590], [0.855, 0.0696], [0.875, 0.0750], [0.906, 0.0776], [0.927, 0.0856], [0.953, 0.0962], [0.984, 0.0776], [1.014, 0.0563], [1.040, 0.0296], [1.071, 0.0064], [1.1, 0.004], [1.6, 0.004]];
const rf12WW: Pt[] = [[0.072, 0.0887], [0.110, 0.0861], [0.148, 0.0914], [0.160, 0.1045], [0.173, 0.0992], [0.186, 0.1072], [0.217, 0.1177], [0.236, 0.1019], [0.273, 0.0861], [0.311, 0.0808], [0.324, 0.0650], [0.349, 0.0492], [0.399, 0.0397], [0.436, 0.0386], [0.474, 0.0492], [0.537, 0.0624], [0.588, 0.0544], [0.612, 0.0597], [0.625, 0.0808], [0.644, 0.1019], [0.669, 0.1177], [0.700, 0.1335], [0.733, 0.120], [0.746, 0.1019], [0.771, 0.086], [0.810, 0.078], [0.835, 0.081], [0.885, 0.078], [0.923, 0.081], [0.948, 0.070], [0.980, 0.049], [0.999, 0.0333], [1.024, 0.0175], [1.055, 0.0096], [1.1, 0.004], [1.6, 0.003]];
const rf12TKE: Pt[] = [[0.069, 0.1039], [0.097, 0.1023], [0.129, 0.105], [0.160, 0.1128], [0.179, 0.1102], [0.186, 0.1155], [0.211, 0.1208], [0.236, 0.1128], [0.273, 0.0997], [0.298, 0.0944], [0.317, 0.0786], [0.349, 0.0681], [0.380, 0.0602], [0.405, 0.0523], [0.443, 0.0575], [0.480, 0.0681], [0.518, 0.076], [0.556, 0.0681], [0.588, 0.0654], [0.607, 0.0733], [0.623, 0.089], [0.648, 0.1125], [0.667, 0.123], [0.685, 0.136], [0.704, 0.144], [0.729, 0.139], [0.754, 0.123], [0.773, 0.105], [0.798, 0.089], [0.830, 0.094], [0.848, 0.110], [0.880, 0.110], [0.898, 0.126], [0.936, 0.136], [0.955, 0.139], [0.973, 0.115], [0.992, 0.094], [1.017, 0.0625], [1.042, 0.030], [1.074, 0.0088], [1.1, 0.005], [1.6, 0.0045]];

// panel (e): mean profiles and anisotropy ratio
const eUU: Pt[] = [[0.078, 0.0843], [0.102, 0.0810], [0.124, 0.0770], [0.146, 0.0757], [0.173, 0.0757], [0.208, 0.0750], [0.226, 0.0737], [0.248, 0.0724], [0.270, 0.0704], [0.288, 0.0670], [0.310, 0.0650], [0.332, 0.0664], [0.359, 0.0684], [0.394, 0.0690], [0.439, 0.0697], [0.465, 0.0697], [0.492, 0.0684], [0.519, 0.0670], [0.554, 0.0677], [0.581, 0.0704], [0.607, 0.0730], [0.643, 0.0737], [0.669, 0.0724], [0.705, 0.0737], [0.736, 0.0737], [0.754, 0.0770], [0.780, 0.0797], [0.798, 0.0810], [0.820, 0.0850], [0.842, 0.0869], [0.855, 0.0876], [0.873, 0.0909], [0.887, 0.0949], [0.909, 0.0969], [0.926, 0.1002], [0.940, 0.1035], [0.953, 0.0996], [0.971, 0.0916], [0.993, 0.0783], [1.011, 0.0650], [1.033, 0.0451], [1.059, 0.0252], [1.082, 0.0146], [1.099, 0.0113], [1.121, 0.0093], [1.148, 0.0086], [1.175, 0.0086], [1.3, 0.0085], [1.45, 0.0088], [1.6, 0.0086]];
const eVV: Pt[] = [[0.075, 0.0657], [0.098, 0.0644], [0.129, 0.0640], [0.146, 0.0657], [0.164, 0.0677], [0.191, 0.0684], [0.217, 0.0704], [0.235, 0.0724], [0.257, 0.0717], [0.279, 0.0690], [0.301, 0.0670], [0.319, 0.0684], [0.346, 0.0717], [0.372, 0.0743], [0.399, 0.0763], [0.439, 0.0783], [0.470, 0.0790], [0.492, 0.0770], [0.519, 0.0757], [0.545, 0.0770], [0.572, 0.0763], [0.598, 0.0757], [0.621, 0.0724], [0.643, 0.0724], [0.665, 0.0717], [0.687, 0.0704], [0.709, 0.0704], [0.727, 0.0730], [0.749, 0.0770], [0.771, 0.0816], [0.793, 0.0843], [0.816, 0.0863], [0.847, 0.0909], [0.873, 0.0909], [0.887, 0.0889], [0.909, 0.0863], [0.926, 0.0843], [0.949, 0.0836], [0.962, 0.0796], [0.978, 0.0677], [0.997, 0.0584], [1.020, 0.0451], [1.042, 0.0292], [1.064, 0.0146], [1.086, 0.0066], [1.108, 0.0040], [1.135, 0.0033], [1.175, 0.0027], [1.3, 0.0033], [1.43, 0.0030], [1.6, 0.0035]];
const eWW: Pt[] = [[0.075, 0.1049], [0.093, 0.1055], [0.115, 0.1042], [0.129, 0.1016], [0.146, 0.0996], [0.168, 0.0982], [0.191, 0.0962], [0.213, 0.0956], [0.226, 0.0923], [0.244, 0.0889], [0.266, 0.0856], [0.284, 0.0823], [0.306, 0.0823], [0.332, 0.0843], [0.363, 0.0856], [0.394, 0.0843], [0.426, 0.0856], [0.448, 0.0836], [0.465, 0.0836], [0.479, 0.0810], [0.488, 0.0783], [0.519, 0.0797], [0.545, 0.0803], [0.563, 0.0836], [0.585, 0.0876], [0.607, 0.0909], [0.643, 0.0936], [0.669, 0.0923], [0.683, 0.0909], [0.700, 0.0956], [0.727, 0.1002], [0.745, 0.0996], [0.767, 0.1029], [0.793, 0.1088], [0.813, 0.1195], [0.824, 0.1261], [0.833, 0.1281], [0.854, 0.1348], [0.869, 0.1354], [0.891, 0.1381], [0.895, 0.1414], [0.918, 0.1394], [0.935, 0.1328], [0.949, 0.1181], [0.966, 0.0982], [0.984, 0.0783], [1.011, 0.0518], [1.024, 0.0385], [1.051, 0.0186], [1.073, 0.0093], [1.090, 0.0053], [1.121, 0.0027], [1.148, 0.0020], [1.175, 0.0024], [1.3, 0.0022], [1.45, 0.0022], [1.6, 0.0026]];
const eTKE: Pt[] = [[0.078, 0.1274], [0.098, 0.1248], [0.115, 0.1228], [0.129, 0.1208], [0.146, 0.1201], [0.164, 0.1215], [0.191, 0.1208], [0.213, 0.1221], [0.235, 0.1195], [0.257, 0.1148], [0.279, 0.1108], [0.301, 0.1075], [0.315, 0.1069], [0.337, 0.1095], [0.355, 0.1122], [0.381, 0.1148], [0.403, 0.1162], [0.430, 0.1155], [0.443, 0.1168], [0.465, 0.1148], [0.483, 0.1128], [0.501, 0.1115], [0.519, 0.1108], [0.545, 0.1122], [0.563, 0.1135], [0.572, 0.1162], [0.598, 0.1201], [0.616, 0.1195], [0.629, 0.1175], [0.647, 0.1208], [0.660, 0.1181], [0.678, 0.1162], [0.691, 0.1195], [0.718, 0.1235], [0.736, 0.1248], [0.749, 0.1281], [0.762, 0.1314], [0.785, 0.1347], [0.793, 0.1387], [0.811, 0.1447], [0.829, 0.1513], [0.855, 0.1580], [0.869, 0.1566], [0.887, 0.1606], [0.895, 0.1639], [0.904, 0.1646], [0.918, 0.1626], [0.935, 0.1580], [0.953, 0.1513], [0.975, 0.1314], [1.002, 0.1049], [1.028, 0.0783], [1.051, 0.0518], [1.073, 0.0252], [1.086, 0.0146], [1.104, 0.0106], [1.130, 0.0086], [1.157, 0.0073], [1.175, 0.0068], [1.3, 0.0068], [1.45, 0.0067], [1.6, 0.0068]];
const anisotropy: Pt[] = [[0.075, 0.7675], [0.098, 0.7827], [0.115, 0.8030], [0.133, 0.7878], [0.151, 0.7625], [0.177, 0.7422], [0.204, 0.7219], [0.222, 0.6865], [0.262, 0.6663], [0.288, 0.6637], [0.315, 0.6789], [0.337, 0.6941], [0.359, 0.6789], [0.386, 0.6713], [0.408, 0.6460], [0.434, 0.6308], [0.457, 0.6131], [0.483, 0.6030], [0.501, 0.6055], [0.536, 0.6106], [0.563, 0.6156], [0.590, 0.6308], [0.612, 0.6409], [0.634, 0.6536], [0.652, 0.6511], [0.678, 0.6409], [0.696, 0.6511], [0.718, 0.6561], [0.749, 0.6511], [0.776, 0.6460], [0.793, 0.6612], [0.804, 0.6916], [0.816, 0.7169], [0.827, 0.7372], [0.847, 0.7422], [0.860, 0.7675], [0.891, 0.7878], [0.909, 0.8030], [0.926, 0.7930], [0.937, 0.7625], [0.942, 0.7120], [0.962, 0.6460], [0.984, 0.5700], [1.011, 0.4991], [1.030, 0.4181], [1.042, 0.3675], [1.064, 0.3118], [1.086, 0.3017], [1.108, 0.2763], [1.130, 0.2510], [1.148, 0.2308], [1.174, 0.2160], [1.183, 0.221], [1.197, 0.238], [1.214, 0.256], [1.226, 0.271], [1.238, 0.251], [1.259, 0.226], [1.276, 0.208], [1.300, 0.208], [1.317, 0.205], [1.334, 0.185], [1.351, 0.165], [1.362, 0.145], [1.368, 0.129], [1.403, 0.127], [1.424, 0.127], [1.437, 0.135], [1.447, 0.165], [1.459, 0.200], [1.468, 0.223], [1.485, 0.226], [1.503, 0.236], [1.526, 0.238], [1.552, 0.236]];

const smallTicks = [0, 0.05, 0.1, 0.15, 0.2, 0.25, 0.3];
const smallTickLabels = [0, 0.1, 0.2, 0.3];
const yTicks = [0, 0.5, 1.0, 1.5];
const eTicks = [0, 0.05, 0.1, 0.15];
const anisoTicks = [0.1, 0.2, 0.3, 0.4, 0.5, 0.6, 0.7, 0.8];
const eLegendLabels = ["< u'u' >", "< v'v' >", "< w'w' >", 'TKE', 'Anisotropy Ratio'];
const legendLabels = ['Individual Flight (IF)', 'Mean of IFs', 'RF11', 'RF12', 'Mean Cloud Layer'];

// ---- layout -------------------------------------------------------------
const TOP = 169.6;
const BOTTOM = 1975;
const BG = '#EEEEEE';
const BAND = '#F1FBEF';

const panels = [
  { id: 'a', left: 107, right: 518, gray: grayUU, mean: meanUU, rf11: rf11UU, rf12: rf12UU, title: "< u'u' >" },
  { id: 'b', left: 637, right: 1068, gray: grayVV, mean: meanVV, rf11: rf11VV, rf12: rf12VV, title: "< v'v' >" },
  { id: 'c', left: 1187, right: 1618, gray: grayWW, mean: meanWW, rf11: rf11WW, rf12: rf12WW, title: "< w'w' >" },
  { id: 'd', left: 1737, right: 2168, gray: grayTKE, mean: meanTKE, rf11: rf11TKE, rf12: rf12TKE, title: 'TKE' },
];
const E = { left: 2287, right: 3268 };

const App: React.FC = () => {
  const svgRef = useRef<SVGSVGElement>(null);

  useEffect(() => {
    const svg = d3.select(svgRef.current);
    svg.selectAll('*').remove();
    svg.attr('font-family', FONT);

    const y = d3.scaleLinear().domain([-0.06, 1.56]).range([BOTTOM, TOP]);

    const unitTitle = (x: number, label: string) => {
      const t = svg.append('text')
        .attr('x', x).attr('y', 2116)
        .attr('text-anchor', 'middle')
        .attr('font-size', 49);
      t.append('tspan').text(label + ' (m');
      t.append('tspan').attr('dy', -19).attr('font-size', 35).text('2');
      t.append('tspan').attr('dy', 19).text('\u00a0s');
      t.append('tspan').attr('dy', -19).attr('font-size', 35).text('-2');
      t.append('tspan').attr('dy', 19).text(')');
    };

    const leftAxis = (left: number) => {
      yTicks.forEach(t => {
        svg.append('line')
          .attr('x1', left - 21).attr('x2', left)
          .attr('y1', y(t)).attr('y2', y(t))
          .attr('stroke', 'black').attr('stroke-width', 3);
        svg.append('text')
          .attr('transform', `translate(${left - 44},${y(t)}) rotate(-90)`)
          .attr('text-anchor', 'middle')
          .attr('font-size', 42)
          .text(d3.format('.1f')(t));
      });
    };

    const frame = (left: number, right: number) => {
      svg.append('rect')
        .attr('x', left).attr('y', TOP)
        .attr('width', right - left).attr('height', BOTTOM - TOP)
        .attr('fill', BG);
      svg.append('rect')
        .attr('x', left).attr('y', y(cloudLayer[1]))
        .attr('width', right - left).attr('height', y(cloudLayer[0]) - y(cloudLayer[1]))
        .attr('fill', BAND);
    };

    const border = (left: number, right: number) => {
      svg.append('rect')
        .attr('x', left).attr('y', TOP)
        .attr('width', right - left).attr('height', BOTTOM - TOP)
        .attr('fill', 'none').attr('stroke', 'black').attr('stroke-width', 3);
    };

    const clip = (id: string, left: number, right: number) => {
      svg.append('clipPath').attr('id', `clip-${id}`)
        .append('rect')
        .attr('x', left).attr('y', TOP)
        .attr('width', right - left).attr('height', BOTTOM - TOP);
      return svg.append('g').attr('clip-path', `url(#clip-${id})`);
    };

    // ---- panels (a)-(d)
    panels.forEach(p => {
      const x = d3.scaleLinear().domain([-0.012, 0.312]).range([p.left, p.right]);
      const line = d3.line<Pt>().x(d => x(d[1])).y(d => y(d[0]));

      frame(p.left, p.right);
      const g = clip(p.id, p.left, p.right);

      g.append('line')
        .attr('x1', x(0)).attr('x2', x(0))
        .attr('y1', TOP).attr('y2', BOTTOM)
        .attr('stroke', '#A8A8A8').attr('stroke-width', 3)
        .attr('stroke-dasharray', '4 8');

      p.gray.forEach((vals, i) => {
        const pts: Pt[] = vals.map((v, j) => [j === 0 ? flightBase[i] : zLevels[j], v]);
        g.append('path')
          .attr('d', line(pts))
          .attr('fill', 'none')
          .attr('stroke', '#ABABAB')
          .attr('stroke-width', 3.2)
          .attr('stroke-linejoin', 'round');
      });

      g.append('path').attr('d', line(p.rf11))
        .attr('fill', 'none').attr('stroke', '#6BBFE4').attr('stroke-width', 3.5)
        .attr('stroke-linejoin', 'round');
      g.append('path').attr('d', line(p.rf12))
        .attr('fill', 'none').attr('stroke', '#3D3DD6').attr('stroke-width', 3.5)
        .attr('stroke-linejoin', 'round');
      g.append('path').attr('d', line(p.mean))
        .attr('fill', 'none').attr('stroke', 'rgba(255,0,0,0.52)').attr('stroke-width', 11)
        .attr('stroke-linejoin', 'round').attr('stroke-linecap', 'round');

      border(p.left, p.right);

      smallTicks.forEach(t => {
        svg.append('line')
          .attr('x1', x(t)).attr('x2', x(t))
          .attr('y1', BOTTOM).attr('y2', BOTTOM + 21)
          .attr('stroke', 'black').attr('stroke-width', 3);
      });
      smallTickLabels.forEach(t => {
        svg.append('text')
          .attr('x', x(t)).attr('y', 2048)
          .attr('text-anchor', 'middle')
          .attr('font-size', 42)
          .text(d3.format('.2f')(t));
      });
      leftAxis(p.left);
      unitTitle((p.left + p.right) / 2, p.title);

      svg.append('text')
        .attr('x', p.right - 54).attr('y', 229)
        .attr('text-anchor', 'middle')
        .attr('font-size', 46)
        .text(`(${p.id})`);
    });

    // y title
    const zt = svg.append('text')
      .attr('transform', 'translate(70,1072) rotate(-90)')
      .attr('text-anchor', 'middle')
      .attr('font-size', 49);
    zt.append('tspan').text('Z/Z');
    zt.append('tspan').attr('dy', 10).attr('font-size', 35).text('i');

    // ---- panel (e)
    const xe = d3.scaleLinear().domain([-0.0072, 0.1872]).range([E.left, E.right]);
    const xa = d3.scaleLinear().domain([0.0915, 0.8345]).range([E.left, E.right]);
    const lineE = d3.line<Pt>().x(d => xe(d[1])).y(d => y(d[0]));
    const lineA = d3.line<Pt>().x(d => xa(d[1])).y(d => y(d[0]));

    frame(E.left, E.right);
    const ge = clip('e', E.left, E.right);
    const eSeries: [Pt[], string, number][] = [
      [eUU, '#5CF05C', 5],
      [eVV, '#4848F0', 5],
      [eWW, '#F04848', 5],
      [eTKE, '#454545', 17],
    ];
    eSeries.forEach(([data, color, w]) => {
      ge.append('path').attr('d', lineE(data))
        .attr('fill', 'none').attr('stroke', color).attr('stroke-width', w)
        .attr('stroke-linejoin', 'round').attr('stroke-linecap', 'round');
    });
    ge.append('path').attr('d', lineA(anisotropy))
      .attr('fill', 'none').attr('stroke', '#FF9900').attr('stroke-width', 6)
      .attr('stroke-dasharray', '14 11');

    border(E.left, E.right);

    eTicks.forEach(t => {
      svg.append('line')
        .attr('x1', xe(t)).attr('x2', xe(t))
        .attr('y1', BOTTOM).attr('y2', BOTTOM + 21)
        .attr('stroke', 'black').attr('stroke-width', 3);
      svg.append('text')
        .attr('x', xe(t)).attr('y', 2048)
        .attr('text-anchor', 'middle')
        .attr('font-size', 42)
        .text(d3.format('.2f')(t));
    });
    anisoTicks.forEach(t => {
      svg.append('line')
        .attr('x1', xa(t)).attr('x2', xa(t))
        .attr('y1', TOP).attr('y2', TOP - 21)
        .attr('stroke', 'black').attr('stroke-width', 3);
      svg.append('text')
        .attr('x', xa(t)).attr('y', 124)
        .attr('text-anchor', 'middle')
        .attr('font-size', 42)
        .text(d3.format('.1f')(t));
    });
    svg.append('text')
      .attr('x', (E.left + E.right) / 2).attr('y', 63)
      .attr('text-anchor', 'middle')
      .attr('font-size', 49)
      .text('Anisotropy Ratio');
    leftAxis(E.left);
    unitTitle((E.left + E.right) / 2, 'Variance & TKE');

    svg.append('text')
      .attr('x', 2575).attr('y', 229)
      .attr('text-anchor', 'middle')
      .attr('font-size', 46)
      .text('(e)');

    // legend inside (e)
    const eLegendStyle: [string, number, string | null][] = [
      ['#5CF05C', 7, null],
      ['#4848F0', 7, null],
      ['#F04848', 7, null],
      ['#454545', 16, null],
      ['#FF9900', 6, '14 11'],
    ];
    eLegendLabels.forEach((label, i) => {
      const cy = 230 + i * 59.3;
      const [color, w, dash] = eLegendStyle[i];
      const l = svg.append('line')
        .attr('x1', 2748).attr('x2', 2840)
        .attr('y1', cy).attr('y2', cy)
        .attr('stroke', color).attr('stroke-width', w)
        .attr('stroke-linecap', dash ? 'butt' : 'round');
      if (dash) l.attr('stroke-dasharray', dash);
      svg.append('text')
        .attr('x', 2884).attr('y', cy + 17)
        .attr('font-size', 48)
        .text(label);
    });

    // ---- bottom legend
    svg.append('rect')
      .attr('x', 359).attr('y', 2173)
      .attr('width', 3187 - 359).attr('height', 2274 - 2173)
      .attr('fill', 'white').attr('stroke', 'black').attr('stroke-width', 3);
    const legendColors = ['#B0B0B0', '#FF0000', '#A0D2E2', '#0000FF', '#A8F5A0'];
    const legendX = [426, 988, 1550, 2110, 2646];
    const legendTextX = [546, 1107, 1670, 2228, 2793];
    legendLabels.forEach((label, i) => {
      if (i < 4) {
        svg.append('line')
          .attr('x1', legendX[i]).attr('x2', legendX[i] + 85)
          .attr('y1', 2223).attr('y2', 2223)
          .attr('stroke', legendColors[i]).attr('stroke-width', 8)
          .attr('stroke-linecap', 'round');
      } else {
        svg.append('rect')
          .attr('x', legendX[i]).attr('y', 2211)
          .attr('width', 31).attr('height', 25)
          .attr('fill', legendColors[i]);
      }
      svg.append('text')
        .attr('x', legendTextX[i]).attr('y', 2239)
        .attr('font-size', 42)
        .text(label);
    });
  }, []);

  return (
    <svg
      ref={svgRef}
      width={W}
      height={H}
      style={{ position: 'absolute', left: 0, top: 0, background: 'white' }}
    />
  );
};

export default App;
